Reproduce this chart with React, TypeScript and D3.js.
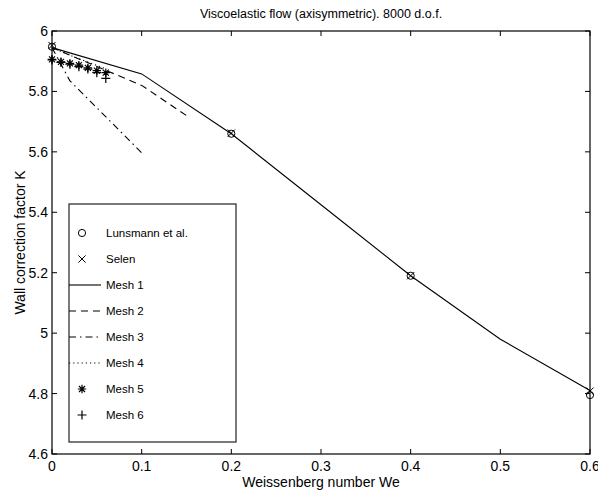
import React from "react";
import * as d3 from "d3";

const W = 598;
const H = 493;
const margin = { left: 52, right: 8, top: 31, bottom: 39 };

const xTicks = [0, 0.1, 0.2, 0.3, 0.4, 0.5, 0.6];
const yTicks = [4.6, 4.8, 5, 5.2, 5.4, 5.6, 5.8, 6];

const lunsmannX = [0, 0.2, 0.4, 0.6];
const lunsmannY = [5.948, 5.66, 5.19, 4.795];
const selenX = [0, 0.2, 0.4, 0.6];
const selenY = [5.952, 5.662, 5.19, 4.808];

const mesh1X = [0, 0.1, 0.2, 0.3, 0.4, 0.5, 0.6];
const mesh1Y = [5.945, 5.858, 5.66, 5.425, 5.19, 4.98, 4.81];
const mesh2X = [0, 0.1, 0.15];
const mesh2Y = [5.945, 5.82, 5.72];
const mesh3X = [0, 0.02, 0.1];
const mesh3Y = [5.945, 5.835, 5.597];
const mesh4X = [0, 0.02, 0.04, 0.06];
const mesh4Y = [5.945, 5.92, 5.897, 5.875];
const mesh5X = [0, 0.01, 0.02, 0.03, 0.04, 0.05, 0.06];
const mesh5Y = [5.906, 5.898, 5.893, 5.887, 5.878, 5.869, 5.862];
const mesh6X = [0, 0.01, 0.02, 0.03, 0.04, 0.05, 0.06];
const mesh6Y = [5.904, 5.896, 5.89, 5.882, 5.874, 5.862, 5.843];

const legendLabels = ["Lunsmann et al.", "Selen", "Mesh 1", "Mesh 2", "Mesh 3", "Mesh 4", "Mesh 5", "Mesh 6"];

const FONT = "'Liberation Sans', Arial, Helvetica, sans-serif";

function zip(xs: number[], ys: number[]): [number, number][] {
  return xs.map((x, i) => [x, ys[i]]);
}

function Circle({ cx, cy }: { cx: number; cy: number }) {
  return <circle cx={cx} cy={cy} r={3.6} fill="none" stroke="#000" strokeWidth={1} />;
}
function Cross({ cx, cy }: { cx: number; cy: number }) {
  const s = 3.6;
  return (
    <path d={`M${cx - s},${cy - s}L${cx + s},${cy + s}M${cx - s},${cy + s}L${cx + s},${cy - s}`} stroke="#000" strokeWidth={1} fill="none" />
  );
}
function Plus({ cx, cy }: { cx: number; cy: number }) {
  const s = 4.5;
  return <path d={`M${cx - s},${cy}L${cx + s},${cy}M${cx},${cy - s}L${cx},${cy + s}`} stroke="#000" strokeWidth={1.2} fill="none" />;
}
function Star({ cx, cy }: { cx: number; cy: number }) {
  const s = 4.2;
  const d = 3.0;
  return (
    <path
      d={`M${cx - s},${cy}L${cx + s},${cy}M${cx},${cy - s}L${cx},${cy + s}M${cx - d},${cy - d}L${cx + d},${cy + d}M${cx - d},${cy + d}L${cx + d},${cy - d}`}
      stroke="#000"
      strokeWidth={1.2}
      fill="none"
    />
  );
}

export default function App() {
  const x = d3.scaleLinear().domain([0, 0.6]).range([margin.left, W - margin.right]);
  const y = d3.scaleLinear().domain([4.6, 6]).range([H - margin.bottom, margin.top]);
  const line = d3
    .line<[number, number]>()
    .x((d) => x(d[0]))
    .y((d) => y(d[1]));

  const x0 = margin.left;
  const x1 = W - margin.right;
  const y0 = margin.top;
  const y1 = H - margin.bottom;
  const tl = 5;

  const lines = [
    { data: zip(mesh1X, mesh1Y), dash: undefined },
    { data: zip(mesh2X, mesh2Y), dash: "7,5" },
    { data: zip(mesh3X, mesh3Y), dash: "7,4,1.5,4" },
    { data: zip(mesh4X, mesh4Y), dash: "1.2,3" },
  ];

  // legend
  const lgX = 69;
  const lgY = 204;
  const lgW = 167;
  const lgH = 238;
  const rowY0 = 233;
  const rowDy = 26;

  return (
    <svg width={W} height={H} style={{ display: "block", position: "absolute", left: 0, top: 0 }} fontFamily={FONT}>
      <rect x={0} y={0} width={W} height={H} fill="#fff" />
      <text x={(x0 + x1) / 2} y={18} textAnchor="middle" fontSize={12.5}>
        Viscoelastic flow (axisymmetric). 8000 d.o.f.
      </text>

      {/* data lines */}
      {lines.map((l, i) => (
        <path key={i} d={line(l.data) || ""} fill="none" stroke="#000" strokeWidth={1.1} strokeDasharray={l.dash} />
      ))}

      {/* markers */}
      {zip(lunsmannX, lunsmannY).map((p, i) => (
        <Circle key={"c" + i} cx={x(p[0])} cy={y(p[1])} />
      ))}
      {zip(selenX, selenY).map((p, i) => (
        <Cross key={"x" + i} cx={x(p[0])} cy={y(p[1])} />
      ))}
      {zip(mesh5X, mesh5Y).map((p, i) => (
        <Star key={"s" + i} cx={x(p[0])} cy={y(p[1])} />
      ))}
      {zip(mesh6X, mesh6Y).map((p, i) => (
        <Plus key={"p" + i} cx={x(p[0])} cy={y(p[1])} />
      ))}

      {/* frame */}
      <rect x={x0} y={y0} width={x1 - x0} height={y1 - y0} fill="none" stroke="#000" strokeWidth={1.2} />
      {xTicks.map((t) => (
        <g key={"xt" + t}>
          <line x1={x(t)} x2={x(t)} y1={y1} y2={y1 - tl} stroke="#000" />
          <line x1={x(t)} x2={x(t)} y1={y0} y2={y0 + tl} stroke="#000" />
          <text x={x(t)} y={y1 + 17} textAnchor="middle" fontSize={14}>
            {d3.format("~g")(t)}
          </text>
        </g>
      ))}
      {yTicks.map((t) => (
        <g key={"yt" + t}>
          <line x1={x0} x2={x0 + tl} y1={y(t)} y2={y(t)} stroke="#000" />
          <line x1={x1} x2={x1 - tl} y1={y(t)} y2={y(t)} stroke="#000" />
          <text x={x0 - 4} y={y(t) + 5} textAnchor="end" fontSize={14}>
            {d3.format("~g")(t)}
          </text>
        </g>
      ))}

      <text x={(x0 + x1) / 2} y={487} textAnchor="middle" fontSize={14}>
        Weissenberg number We
      </text>
      <text transform={`translate(25,${(y0 + y1) / 2}) rotate(-90)`} textAnchor="middle" fontSize={14}>
        Wall correction factor K
      </text>

      {/* legend */}
      <rect x={lgX} y={lgY} width={lgW} height={lgH} fill="#fff" stroke="#222" strokeWidth={1.2} />
      {legendLabels.map((lab, i) => {
        const ry = rowY0 + i * rowDy;
        const mx = 82;
        let sym: React.ReactNode = null;
        if (i === 0) sym = <Circle cx={mx} cy={ry} />;
        else if (i === 1) sym = <Cross cx={mx} cy={ry} />;
        else if (i === 6) sym = <Star cx={mx} cy={ry} />;
        else if (i === 7) sym = <Plus cx={mx} cy={ry} />;
        else {
          const dash = lines[i - 2].dash;
          sym = <line x1={lgX} x2={101} y1={ry} y2={ry} stroke="#000" strokeWidth={1.1} strokeDasharray={dash} />;
        }
        return (
          <g key={"lg" + i}>
            {sym}
            <text x={106} y={ry + 4} fontSize={11.5}>
              {lab}
            </text>
          </g>
        );
      })}
    </svg>
  );
}
